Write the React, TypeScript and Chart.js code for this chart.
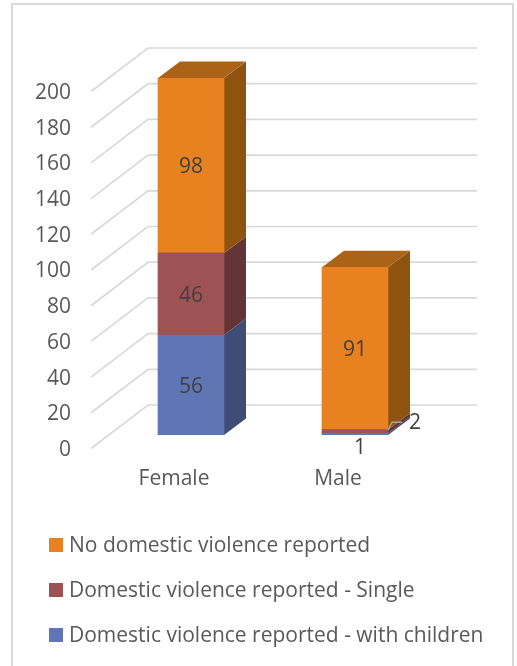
import React, { useEffect, useRef } from "react";
import { Chart, registerables } from "chart.js";

Chart.register(...registerables);

const categories = ["Female", "Male"];
const withChildren = [56, 1];
const single = [46, 2];
const noViolence = [98, 91];
const seriesNames = [
  "Domestic violence reported - with children",
  "Domestic violence reported - Single",
  "No domestic violence reported",
];
const tickValues = [0, 20, 40, 60, 80, 100, 120, 140, 160, 180, 200];

const FRONT = ["#6076B4", "#9E5253", "#E8811F"];
const SIDE = ["#3F4C75", "#643336", "#8F5310"];
const TOP = ["#4F6296", "#834346", "#AD6317"];
const FONT = '"Open Sans", sans-serif';
const FS = 21;
const DX = 22;
const DY = 16.5;

const depthPlugin = {
  id: "depth",
  beforeDatasetsDraw(chart: any) {
    const { ctx } = chart;
    const y = chart.scales.y;
    const frontX = 91;
    const backX = 148;
    const endX = 477;
    ctx.save();
    ctx.strokeStyle = "#D9D9D9";
    ctx.lineWidth = 1.7;
    tickValues.forEach((v) => {
      const p = y.getPixelForValue(v);
      ctx.beginPath();
      ctx.moveTo(frontX, p + 13.5);
      ctx.lineTo(backX, p - 30);
      ctx.lineTo(endX, p - 30);
      ctx.stroke();
    });
    // panel border
    ctx.strokeStyle = "#D9D9D9";
    ctx.lineWidth = 2;
    ctx.beginPath();
    ctx.moveTo(12, 666);
    ctx.lineTo(12, 4);
    ctx.lineTo(513, 4);
    ctx.lineTo(513, 666);
    ctx.stroke();
    // bar depth
    chart.data.datasets.forEach((_: any, di: number) => {
      const els = chart.getDatasetMeta(di).data;
      els.forEach((el: any) => {
        const r = el.x + el.width / 2;
        const l = el.x - el.width / 2;
        ctx.fillStyle = SIDE[di];
        ctx.beginPath();
        ctx.moveTo(r, el.base);
        ctx.lineTo(r, el.y);
        ctx.lineTo(r + DX, el.y - DY);
        ctx.lineTo(r + DX, el.base - DY);
        ctx.closePath();
        ctx.fill();
        if (di === chart.data.datasets.length - 1) {
          ctx.fillStyle = TOP[di];
          ctx.beginPath();
          ctx.moveTo(l, el.y);
          ctx.lineTo(r, el.y);
          ctx.lineTo(r + DX, el.y - DY);
          ctx.lineTo(l + DX, el.y - DY);
          ctx.closePath();
          ctx.fill();
        }
      });
    });
    ctx.restore();
  },
  afterDatasetsDraw(chart: any) {
    const { ctx } = chart;
    ctx.save();
    ctx.font = `${FS}px ${FONT}`;
    ctx.textAlign = "center";
    ctx.textBaseline = "middle";
    ctx.fillStyle = "#404040";
    chart.data.datasets.forEach((ds: any, di: number) => {
      chart.getDatasetMeta(di).data.forEach((el: any, i: number) => {
        const val = ds.data[i];
        if (val > 5) {
          ctx.fillText(String(val), el.x, (el.y + el.base) / 2 + 2);
        } else if (di === 0) {
          ctx.fillText(String(val), el.x + 5, el.base + 13);
        } else {
          const r = el.x + el.width / 2;
          ctx.strokeStyle = "#A6A6A6";
          ctx.lineWidth = 1.4;
          ctx.beginPath();
          ctx.moveTo(r, el.base - 3);
          ctx.lineTo(r + 4, el.base - 11);
          ctx.lineTo(r + 14, el.base - 11);
          ctx.stroke();
          ctx.fillText(String(val), r + 27, el.base - 10);
        }
      });
    });
    // legend (top to bottom: reverse of stack order)
    ctx.textAlign = "left";
    const names = [...seriesNames].reverse();
    const colors = [...FRONT].reverse();
    names.forEach((n, i) => {
      const cy = 545 + i * 45;
      ctx.fillStyle = colors[i];
      ctx.fillRect(49, cy - 7, 14, 14);
      ctx.fillStyle = "#595959";
      ctx.fillText(n, 69, cy + 1);
    });
    ctx.restore();
  },
};

export default function App() {
  const ref = useRef<HTMLCanvasElement>(null);
  useEffect(() => {
    const chart = new Chart(ref.current!, {
      type: "bar",
      data: {
        labels: categories,
        datasets: [withChildren, single, noViolence].map((data, i) => ({
          label: seriesNames[i],
          data,
          backgroundColor: FRONT[i],
          barThickness: 66,
          borderWidth: 0,
        })),
      },
      options: {
        animation: false,
        responsive: false,
        devicePixelRatio: 1,
        layout: { padding: { top: 78, right: 80, left: 0, bottom: 0 } },
        plugins: { legend: { display: false }, tooltip: { enabled: false } },
        scales: {
          x: {
            stacked: true,
            grid: { display: false, drawTicks: false },
            border: { display: false },
            ticks: {
              color: "#595959",
              font: { family: FONT, size: FS },
              padding: 31,
              labelOffset: -17,
              maxRotation: 0,
            },
            afterFit: (s: any) => {
              s.height = 231;
            },
          },
          y: {
            stacked: true,
            min: 0,
            max: 200,
            grid: { display: false, drawTicks: false },
            border: { display: false },
            ticks: {
              color: "#595959",
              font: { family: FONT, size: FS },
              stepSize: 20,
              padding: 38,
              labelOffset: 15,
            },
            afterFit: (s: any) => {
              s.width = 109;
            },
          },
        },
      } as any,
      plugins: [depthPlugin],
    });
    return () => chart.destroy();
  }, []);
  return (
    <canvas
      ref={ref}
      width={517}
      height={666}
      style={{ position: "absolute", left: 0, top: 0, width: 517, height: 666 }}
    />
  );
}
